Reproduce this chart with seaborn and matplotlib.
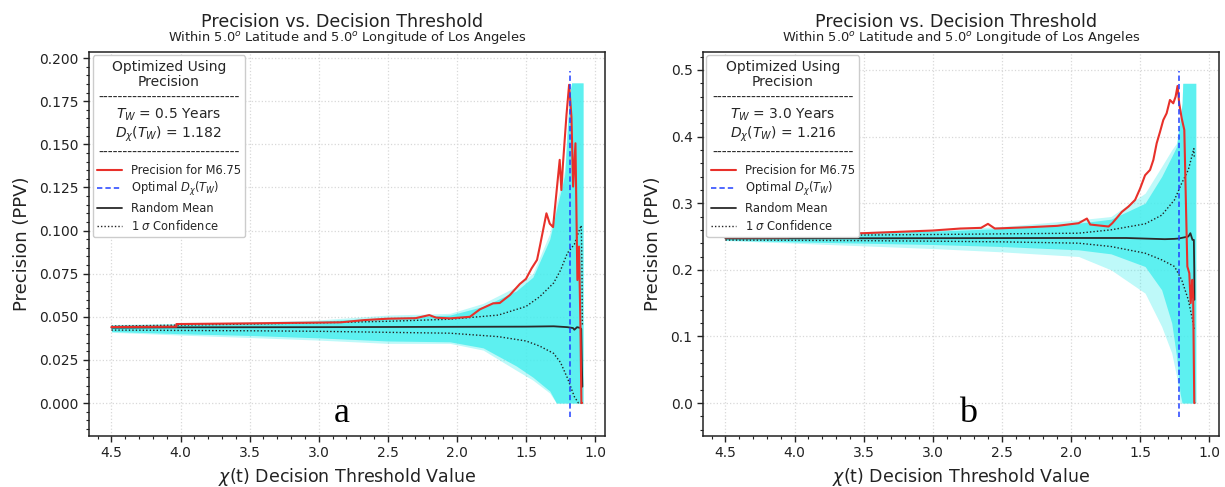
import numpy as np
import pandas as pd
import matplotlib
matplotlib.use("Agg")
import matplotlib.pyplot as plt
import seaborn as sns
from matplotlib.ticker import MultipleLocator, AutoMinorLocator
from matplotlib.lines import Line2D

# ---------------- panel a : T_W = 0.5 years ----------------
red_x_a = [4.5, 4.03, 4.03, 3.5, 2.84, 2.67, 2.5, 2.3, 2.2, 2.15, 2.05, 1.906, 1.834,
           1.738, 1.69, 1.617, 1.545, 1.50, 1.46, 1.42, 1.40, 1.352, 1.328, 1.304, 1.28,
           1.256, 1.244, 1.232, 1.207, 1.188, 1.171, 1.159, 1.142, 1.128, 1.116, 1.106,
           1.099, 1.095]
red_y_a = [0.0441, 0.0443, 0.0458, 0.0462, 0.0468, 0.0481, 0.0489, 0.0492, 0.0510, 0.0495,
           0.0491, 0.0500, 0.0543, 0.0578, 0.0580, 0.0626, 0.0690, 0.0720, 0.0780, 0.0830,
           0.0907, 0.1100, 0.1040, 0.1020, 0.1216, 0.1410, 0.1235, 0.1390, 0.1670, 0.1845,
           0.1660, 0.1255, 0.1506, 0.0713, 0.0907, 0.0443, 0.0, 0.0]

mean_x_a = [4.5, 4.0, 3.0, 2.0, 1.5, 1.3, 1.2, 1.16, 1.15, 1.13, 1.11, 1.10, 1.095, 1.092]
mean_y_a = [0.0437, 0.0439, 0.0440, 0.0442, 0.0443, 0.0445, 0.0440, 0.0435, 0.0425, 0.0440,
            0.0436, 0.0430, 0.0200, 0.0095]

sig_x_a = [4.5, 4.0, 3.5, 3.0, 2.5, 2.05, 1.7, 1.5, 1.4, 1.3, 1.25, 1.2, 1.15, 1.12, 1.10,
           1.095, 1.092]
sig_up_a = [0.0446, 0.0452, 0.0458, 0.0465, 0.0474, 0.0486, 0.051, 0.056, 0.0617, 0.0696,
            0.077, 0.087, 0.092, 0.099, 0.103, 0.080, 0.045]
sig_lo_a = [0.0423, 0.0421, 0.0419, 0.0416, 0.0410, 0.0405, 0.0385, 0.0360, 0.033, 0.0288,
            0.0235, 0.0145, 0.0037, 0.0, 0.0, 0.0, 0.0]

# outer (faint) and inner (dense) envelopes of the random realisations
band_x_a = [4.5, 4.0, 3.5, 3.0, 2.5, 2.05, 1.81, 1.57, 1.45, 1.328, 1.28, 1.22, 1.20, 1.182,
            1.17, 1.087]
band_hi_a = [0.0455, 0.0462, 0.0470, 0.0482, 0.051, 0.052, 0.0578, 0.0675, 0.0752, 0.0984,
             0.116, 0.135, 0.162, 0.180, 0.1856, 0.1856]
band_lo_a = [0.0410, 0.0394, 0.0380, 0.0365, 0.0346, 0.0346, 0.0307, 0.019, 0.0133, 0.0058,
             0.0, 0.0, 0.0, 0.0, 0.0, 0.0]
core_hi_a = [0.0452, 0.0458, 0.0465, 0.0475, 0.0495, 0.0510, 0.0560, 0.0650, 0.0730, 0.0950,
             0.112, 0.132, 0.160, 0.180, 0.1856, 0.1856]
core_lo_a = [0.0415, 0.0402, 0.0392, 0.0378, 0.0360, 0.0355, 0.0320, 0.0215, 0.0150, 0.0070,
             0.0, 0.0, 0.0, 0.0, 0.0, 0.0]

# ---------------- panel b : T_W = 3.0 years ----------------
red_x_b = [4.5, 4.04, 4.03, 3.5, 3.0, 2.8, 2.65, 2.6, 2.55, 2.3, 2.1, 1.944, 1.884, 1.86,
           1.727, 1.70, 1.631, 1.583, 1.535, 1.499, 1.463, 1.427, 1.403, 1.379, 1.355,
           1.331, 1.307, 1.283, 1.259, 1.242, 1.228, 1.216, 1.198, 1.179, 1.169, 1.157,
           1.143, 1.133, 1.121, 1.115, 1.107, 1.105]
red_y_b = [0.2488, 0.2490, 0.2538, 0.2550, 0.2590, 0.2620, 0.2630, 0.2690, 0.2620, 0.2640,
           0.2660, 0.270, 0.277, 0.268, 0.265, 0.270, 0.287, 0.295, 0.305, 0.322, 0.342,
           0.350, 0.365, 0.390, 0.407, 0.425, 0.435, 0.455, 0.450, 0.460, 0.476, 0.450,
           0.4275, 0.410, 0.315, 0.205, 0.195, 0.150, 0.185, 0.160, 0.0, 0.0]

mean_x_b = [4.5, 4.0, 3.0, 2.0, 1.6, 1.32, 1.25, 1.22, 1.15, 1.135, 1.12, 1.11, 1.107, 1.106]
mean_y_b = [0.2470, 0.2472, 0.2475, 0.2478, 0.2478, 0.2460, 0.2465, 0.2470, 0.2500, 0.2550,
            0.2450, 0.2450, 0.2000, 0.1550]

sig_x_b = [4.5, 4.0, 3.5, 3.0, 2.5, 1.944, 1.71, 1.463, 1.343, 1.25, 1.198, 1.15, 1.11, 1.107]
sig_up_b = [0.2508, 0.2515, 0.2522, 0.253, 0.2540, 0.255, 0.260, 0.269, 0.282, 0.305, 0.330,
            0.350, 0.382, 0.370]
sig_lo_b = [0.2447, 0.2443, 0.2438, 0.243, 0.2420, 0.240, 0.235, 0.225, 0.215, 0.205, 0.185,
            0.155, 0.115, 0.110]

band_x_b = [4.5, 4.0, 3.0, 2.5, 1.944, 1.71, 1.463, 1.343, 1.27, 1.235, 1.21, 1.195, 1.19,
            1.096]
band_hi_b = [0.2538, 0.255, 0.260, 0.265, 0.275, 0.280, 0.315, 0.355, 0.380, 0.390, 0.430,
             0.45, 0.480, 0.480]
band_lo_b = [0.2440, 0.2400, 0.2320, 0.227, 0.220, 0.200, 0.165, 0.115, 0.075, 0.040, 0.0,
             0.0, 0.0, 0.0]
core_hi_b = [0.2530, 0.254, 0.258, 0.262, 0.270, 0.276, 0.300, 0.340, 0.370, 0.385, 0.425,
             0.45, 0.480, 0.480]
core_lo_b = [0.2445, 0.2420, 0.2380, 0.235, 0.230, 0.224, 0.205, 0.170, 0.120, 0.070, 0.015,
             0.0, 0.0, 0.0]

panels = [
    dict(red=(red_x_a, red_y_a), mean=(mean_x_a, mean_y_a),
         sig=(sig_x_a, sig_up_a, sig_lo_a), band=(band_x_a, band_hi_a, band_lo_a),
         core=(core_hi_a, core_lo_a),
         opt=1.182, tw="0.5", ylim=(-0.0191, 0.2035), major=0.025, fmt="%.3f",
         tag="a", tag_x=0.49),
    dict(red=(red_x_b, red_y_b), mean=(mean_x_b, mean_y_b),
         sig=(sig_x_b, sig_up_b, sig_lo_b), band=(band_x_b, band_hi_b, band_lo_b),
         core=(core_hi_b, core_lo_b),
         opt=1.216, tw="3.0", ylim=(-0.0495, 0.527), major=0.1, fmt="%.1f",
         tag="b", tag_x=0.514),
]

sns.set_theme(style="ticks")
plt.rcParams['font.family'] = ['DejaVu Sans']
plt.rcParams['mathtext.fontset'] = 'dejavusans'

fig = plt.figure(figsize=(12.25, 4.87), dpi=100)
axes = [fig.add_axes([0.0727, 0.1047, 0.4212, 0.7885]),
        fig.add_axes([0.5739, 0.1047, 0.4212, 0.7885])]

RED = '#e8302a'
CYAN = '#45eeee'

for ax, p in zip(axes, panels):
    bx, bhi, blo = p['band']
    chi, clo = p['core']
    ax.fill_between(bx, blo, bhi, color=CYAN, alpha=0.35, lw=0, zorder=1)
    ax.fill_between(bx, clo, chi, color=CYAN, alpha=0.8, lw=0, zorder=1)

    red = pd.DataFrame({'x': p['red'][0], 'y': p['red'][1]})
    sns.lineplot(data=red, x='x', y='y', ax=ax, color=RED, lw=1.5,
                 estimator=None, sort=False, zorder=4)

    sx, su, sl = p['sig']
    for yy in (su, sl):
        sns.lineplot(x=sx, y=yy, ax=ax, color='#222222', lw=1.0, ls=(0, (1, 1.5)),
                     estimator=None, sort=False, zorder=3)

    mean = pd.DataFrame({'x': p['mean'][0], 'y': p['mean'][1]})
    sns.lineplot(data=mean, x='x', y='y', ax=ax, color='#2a2a2a', lw=1.3,
                 estimator=None, sort=False, zorder=3)

    ax.axvline(p['opt'], ymin=0.05, ymax=0.95, color='#2040ff', lw=1.1,
               ls=(0, (3.5, 2)), zorder=5)

    ax.set_xlim(4.662, 0.928)
    ax.set_ylim(*p['ylim'])
    ax.xaxis.set_major_locator(MultipleLocator(0.5))
    ax.xaxis.set_minor_locator(AutoMinorLocator(5))
    ax.yaxis.set_major_locator(MultipleLocator(p['major']))
    ax.yaxis.set_minor_locator(AutoMinorLocator(5))
    ax.yaxis.set_major_formatter(matplotlib.ticker.FormatStrFormatter(p['fmt']))
    ax.xaxis.set_major_formatter(matplotlib.ticker.FormatStrFormatter('%.1f'))
    ax.grid(True, which='major', color='#d8d8d8', ls=':', lw=0.9)
    ax.tick_params(which='major', direction='out', length=4, width=1, labelsize=10,
                   colors='#222222')
    ax.tick_params(which='minor', direction='out', length=2.5, width=0.8, colors='#222222')
    for s in ax.spines.values():
        s.set_visible(True)
        s.set_color('#222222')
        s.set_linewidth(1.1)

    ax.set_xlabel(r'$\chi$(t) Decision Threshold Value', fontsize=12.5, color='#222222')
    ax.set_ylabel('Precision (PPV)', fontsize=13, color='#222222', labelpad=6)
    ax.set_title(r'Within 5.0$^o$ Latitude and 5.0$^o$ Longitude of Los Angeles',
                 fontsize=9.4, pad=8, color='#222222')
    ax.text(0.49, 1.066, 'Precision vs. Decision Threshold', transform=ax.transAxes,
            ha='center', va='baseline', fontsize=12.6, color='#222222')

    dash = '-' * 29
    title = ('Optimized Using\nPrecision\n' + dash + '\n'
             + r'$T_W$ = ' + p['tw'] + ' Years\n'
             + r'$D_\chi(T_W)$ = ' + f"{p['opt']:.3f}" + '\n' + dash)
    handles = [Line2D([], [], color=RED, lw=1.5),
               Line2D([], [], color='#2040ff', lw=1.1, ls=(0, (3.5, 2))),
               Line2D([], [], color='#2a2a2a', lw=1.3),
               Line2D([], [], color='#222222', lw=1.0, ls=(0, (1, 1.5)))]
    labels = ['Precision for M6.75', r'Optimal $D_\chi(T_W)$', 'Random Mean',
              r'1 $\sigma$ Confidence']
    leg = ax.legend(handles, labels, title=title, loc='upper left', fontsize=8.3,
                    title_fontsize=10, frameon=True, borderaxespad=0.3,
                    handlelength=2.2, labelspacing=0.33, fancybox=True, borderpad=0.35)
    leg.get_title().set_multialignment('center')
    leg.get_title().set_linespacing(1.15)
    leg.get_frame().set_edgecolor('#cccccc')
    leg.get_frame().set_alpha(1.0)
    leg.set_zorder(10)

    ax.text(p['tag_x'], 0.037, p['tag'], transform=ax.transAxes, ha='center',
            va='baseline', fontsize=26, family='Liberation Serif', color='black')

fig.savefig('out.png', dpi=100)
